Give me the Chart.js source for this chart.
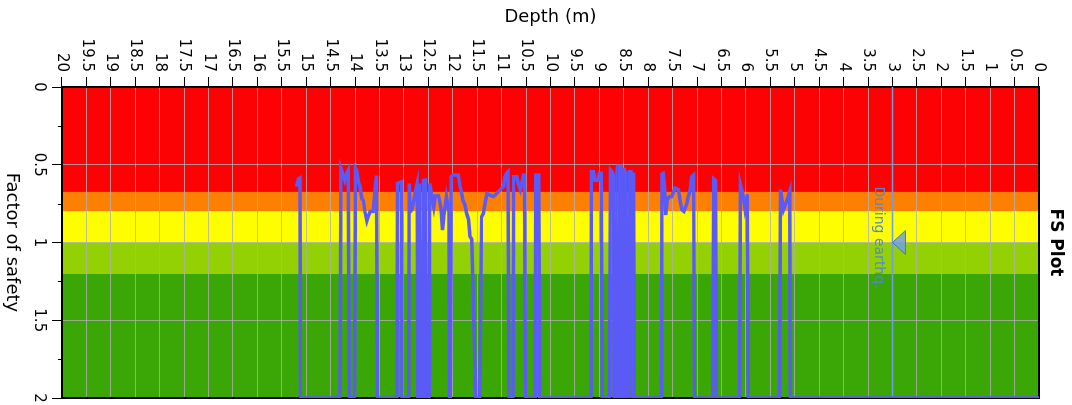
<!DOCTYPE html>
<html lang="en">
<head>
<meta charset="UTF-8">
<title>FS Plot</title>
<script src="https://cdn.jsdelivr.net/npm/chart.js"></script>
<style>
  html, body { margin: 0; padding: 0; background: #fff; }
  #wrap { position: relative; width: 1072px; height: 405px; overflow: hidden; }
  /* chart is built upright (depth down the side) and turned a quarter clockwise */
  #rot { position: absolute; left: 0; top: 0; width: 405px; height: 1072px;
         transform-origin: 0 0; transform: translate(1072px, 0) rotate(90deg); }
  #rot canvas { display: block; }
</style>
</head>
<body>
<div id="wrap">
  <div id="rot"><canvas id="fsChart" width="405" height="1072"></canvas></div>
</div>
<script>
// depth (m) and factor of safety
const depths = [
  0, 5.09, 5.10, 5.16, 5.23, 5.29, 5.31,
  5.95, 5.97, 6.02, 6.05, 6.11, 6.13,
  6.60, 6.62, 6.66, 6.68,
  7.05, 7.07, 7.11, 7.14, 7.18, 7.21, 7.27, 7.31, 7.35, 7.38, 7.45, 7.52, 7.57, 7.61, 7.64, 7.66, 7.69, 7.72, 7.73,
  8.28, 8.30, 8.32, 8.35, 8.38, 8.40, 8.42, 8.45, 8.47, 8.49, 8.52, 8.54, 8.56, 8.58, 8.60, 8.62, 8.64, 8.66,
  8.70, 8.71, 8.74, 8.77, 8.79,
  8.94, 8.96, 9.00, 9.03, 9.09, 9.12, 9.16, 9.17,
  10.22, 10.24, 10.30, 10.31,
  10.51, 10.53, 10.55, 10.62, 10.66, 10.69, 10.75, 10.77,
  10.85, 10.87, 10.90, 10.93, 10.96, 11.03, 11.10, 11.17, 11.24, 11.30, 11.34, 11.37, 11.41, 11.45,
  11.53, 11.61, 11.65, 11.68, 11.72, 11.75, 11.79, 11.82, 11.85, 11.89, 11.99, 12.03, 12.05,
  12.07, 12.08, 12.13, 12.18, 12.21, 12.24, 12.29, 12.36, 12.39, 12.43, 12.47, 12.48,
  12.55, 12.56, 12.60, 12.61,
  12.66, 12.68, 12.70,
  12.72, 12.73, 12.76, 12.80, 12.84, 12.87, 12.89, 12.90,
  13.04, 13.05, 13.13, 13.14,
  13.54, 13.56, 13.59, 13.63, 13.69, 13.73, 13.76, 13.80, 13.83, 13.86, 13.90, 13.93, 13.97, 13.99, 14.01,
  14.12, 14.14, 14.18, 14.21, 14.25, 14.29, 14.31,
  15.12, 15.13, 15.16, 15.20
];
const fsValues = [
  2, 2, 0.67, 0.73, 0.79, 0.66, 2,
  2, 0.69, 0.78, 0.71, 0.63, 2,
  2, 0.60, 0.59, 2,
  2, 0.566, 0.577, 0.66, 0.705, 0.75, 0.80, 0.79, 0.727, 0.66, 0.65, 0.705, 0.705, 0.727, 0.823, 0.66, 0.555, 0.56, 2,
  2, 0.55, 2, 0.545, 0.545, 2, 0.55, 0.55, 2, 0.53, 0.53, 2, 0.51, 0.51, 2, 0.50, 0.545, 2,
  2, 0.566, 0.545, 0.534, 2,
  2, 0.555, 0.555, 0.60, 0.60, 0.545, 0.545, 2,
  2, 0.566, 0.566, 2,
  2, 0.566, 0.566, 0.66, 0.62, 0.577, 0.577, 2,
  2, 0.545, 0.555, 0.577, 0.64, 0.66, 0.684, 0.705, 0.695, 0.684, 0.75, 0.81, 0.834, 2,
  2, 0.98, 0.96, 0.85, 0.81, 0.76, 0.73, 0.68, 0.64, 0.566, 0.566, 0.577, 2,
  2, 0.80, 0.705, 0.82, 0.92, 0.78, 0.70, 0.70, 0.77, 0.70, 0.62, 2,
  2, 0.598, 0.60, 2,
  2, 0.62, 2,
  2, 0.62, 0.66, 0.73, 0.79, 0.80, 0.62, 2,
  2, 0.61, 0.62, 2,
  2, 0.57, 0.64, 0.80, 0.80, 0.83, 0.86, 0.80, 0.73, 0.72, 0.64, 0.61, 0.534, 0.523, 2,
  2, 0.534, 0.56, 0.60, 0.56, 0.523, 2,
  2, 0.585, 0.59, 0.64
];

// safety zones (factor of safety limits)
const bandFrom = [0, 0.675, 0.8, 1.0, 1.2];
const bandTo = [0.675, 0.8, 1.0, 1.2, 2];
const bandColors = ['#fd0205', '#fe8002', '#fefe00', '#93d104', '#3ba706'];

const waterDepth = 3;       // groundwater during earthquake
const waterMarkFs = 1.0;    // where the marker sits along the line
const waterLabel = 'During earthq.';
const minorTicks = [0.25, 0.75, 1.25, 1.75];

Chart.defaults.font.family = '"DejaVu Sans", Verdana, sans-serif';
Chart.defaults.color = '#000';

const decor = {
  id: 'decor',
  beforeDraw(chart) {
    const { ctx, chartArea: a, scales: { x } } = chart;
    ctx.save();
    bandFrom.forEach((f, i) => {
      const x0 = x.getPixelForValue(f);
      const x1 = x.getPixelForValue(bandTo[i]);
      ctx.fillStyle = bandColors[i];
      ctx.fillRect(x0, a.top, x1 - x0, a.bottom - a.top);
    });
    ctx.restore();
  },
  beforeDatasetsDraw(chart) {
    const { ctx, chartArea: a, scales: { x } } = chart;
    ctx.save();
    ctx.strokeStyle = '#000';
    ctx.lineWidth = 2;
    ctx.strokeRect(a.left, a.top, a.right - a.left, a.bottom - a.top);
    ctx.lineWidth = 1;
    minorTicks.forEach(v => {
      const px = Math.round(x.getPixelForValue(v)) + 0.5;
      ctx.beginPath();
      ctx.moveTo(px, a.bottom);
      ctx.lineTo(px, a.bottom + 4);
      ctx.stroke();
    });
    ctx.restore();
  },
  afterDatasetsDraw(chart) {
    const { ctx, scales: { x, y } } = chart;
    const cx = x.getPixelForValue(waterMarkFs);
    const wy = y.getPixelForValue(waterDepth);
    ctx.save();
    ctx.beginPath();
    ctx.moveTo(cx, wy);
    ctx.lineTo(cx - 12, wy - 13);
    ctx.lineTo(cx + 12, wy - 13);
    ctx.closePath();
    ctx.fillStyle = 'rgba(110,160,230,0.85)';
    ctx.fill();
    ctx.strokeStyle = 'rgb(70,120,200)';
    ctx.lineWidth = 1;
    ctx.stroke();
    ctx.font = '14px "DejaVu Sans", Verdana, sans-serif';
    ctx.fillStyle = 'rgb(85,135,205)';
    ctx.textAlign = 'center';
    ctx.textBaseline = 'top';
    ctx.fillText(waterLabel, cx - 5, wy + 7);
    ctx.restore();
  }
};

new Chart(document.getElementById('fsChart'), {
  type: 'scatter',
  data: {
    datasets: [
      {
        label: 'FS',
        data: depths.map((d, i) => ({ x: fsValues[i], y: d })),
        showLine: true,
        borderColor: '#5a5af6',
        borderWidth: 3.5,
        pointRadius: 0,
        tension: 0
      },
      {
        label: waterLabel,
        data: [{ x: 0, y: waterDepth }, { x: 2, y: waterDepth }],
        showLine: true,
        borderColor: 'rgb(110,160,225)',
        borderWidth: 1.5,
        pointRadius: 0
      }
    ]
  },
  options: {
    responsive: false,
    animation: false,
    layout: { padding: { top: 0, right: 0, bottom: 0, left: 0 } },
    plugins: {
      legend: { display: false },
      tooltip: { enabled: false },
      title: {
        display: true,
        text: 'FS Plot',
        fullSize: false,
        color: '#000',
        font: { size: 17, weight: 'bold' },
        padding: { top: 6, bottom: 6.6 }
      }
    },
    scales: {
      x: {
        type: 'linear',
        position: 'bottom',
        min: 0,
        max: 2,
        ticks: { stepSize: 0.5, font: { size: 15 }, color: '#000', padding: 4, maxRotation: 0,
                 callback: v => String(v) },
        grid: { color: 'rgba(175,175,175,0.8)', tickColor: '#000', tickLength: 10 },
        border: { color: '#000', width: 2 },
        title: { display: true, text: 'Factor of safety', font: { size: 18 }, color: '#000', padding: { top: 0, bottom: 1 } },
        afterFit(s) { s.height = 62; s.paddingRight = 7; }
      },
      y: {
        type: 'linear',
        position: 'left',
        reverse: true,
        min: 0,
        max: 20,
        ticks: { stepSize: 0.5, autoSkip: false, font: { size: 15 }, color: '#000', padding: 5,
                 callback: v => String(v) },
        grid: { color: 'rgba(175,175,175,0.8)', tickColor: '#000', tickLength: 10 },
        border: { color: '#000', width: 2 },
        title: { display: true, text: 'Depth (m)', font: { size: 18 }, color: '#000', padding: { top: 7, bottom: 0 } },
        afterFit(s) { s.width = 87; }
      }
    }
  },
  plugins: [decor]
});
</script>
</body>
</html>
